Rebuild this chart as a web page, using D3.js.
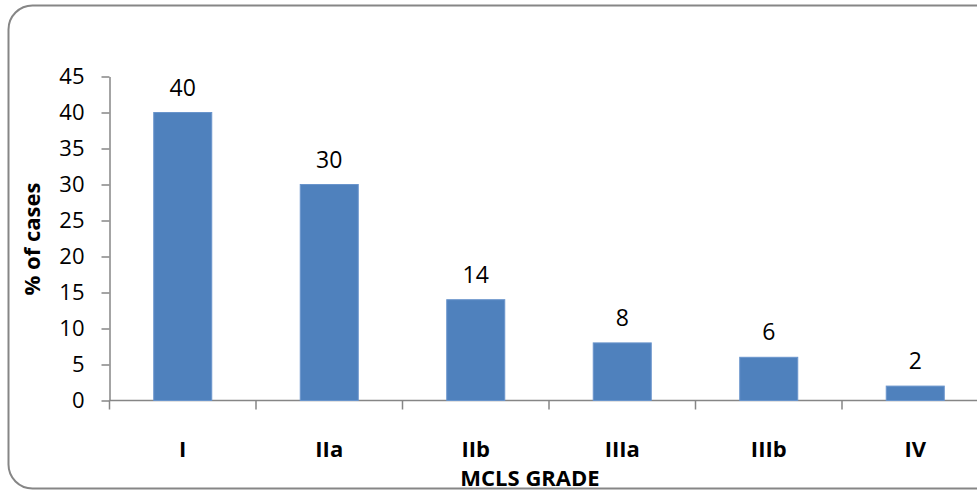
<!DOCTYPE html>
<html><head><meta charset="utf-8">
<script src="https://cdn.jsdelivr.net/npm/d3@7"></script>
<style>html,body{margin:0;padding:0;background:#fff;overflow:hidden}</style>
</head><body>
<svg id="c" width="977" height="493"></svg>
<script>
const categories = ["I","IIa","IIb","IIIa","IIIb","IV"];
const values = [40,30,14,8,6,2];
const yTicks = [0,5,10,15,20,25,30,35,40,45];

const svg = d3.select("#c");
const font = "'Open Sans', 'Liberation Sans', sans-serif";
const gray = "#868686";

// frame
svg.append("rect").attr("x",8.5).attr("y",5.5).attr("width",990).attr("height",483)
  .attr("rx",24).attr("ry",24).attr("fill","#fff").attr("stroke",gray).attr("stroke-width",2);

const left = 109.5, bottom = 400.5;
const x = d3.scaleBand().domain(categories).range([left, left + 146.5*6]).paddingInner(0.604).paddingOuter(0.302);
const y = d3.scaleLinear().domain([0,45]).range([bottom, bottom - 45*7.2]);

// y axis
const ya = svg.append("g").attr("transform",`translate(${left},0)`)
  .call(d3.axisLeft(y).tickValues(yTicks).tickSize(8).tickPadding(17).tickSizeOuter(0));
ya.select(".domain").attr("stroke",gray).attr("stroke-width",1.5);
ya.selectAll(".tick line").attr("stroke",gray).attr("stroke-width",1.5);
ya.selectAll(".tick text").attr("font-family",font).attr("font-size",22).attr("fill","#000");

// x axis line + ticks between categories
svg.append("line").attr("x1",left).attr("x2",977).attr("y1",bottom).attr("y2",bottom)
  .attr("stroke",gray).attr("stroke-width",1.5);
const step = x.step();
const bounds = d3.range(categories.length+1).map(i => left + i*step);
svg.selectAll(".xt").data(bounds).join("line").attr("class","xt")
  .attr("x1",d=>d).attr("x2",d=>d).attr("y1",bottom).attr("y2",bottom+9)
  .attr("stroke",gray).attr("stroke-width",1.5);

// bars
svg.selectAll(".bar").data(values).join("rect").attr("class","bar")
  .attr("x",(d,i)=>x(categories[i])).attr("width",x.bandwidth())
  .attr("y",d=>y(d)).attr("height",d=>bottom - y(d))
  .attr("fill","#4F81BD").attr("stroke","#6a95cc").attr("stroke-width",1);

// value labels
svg.selectAll(".vl").data(values).join("text").attr("class","vl")
  .attr("x",(d,i)=>x(categories[i])+x.bandwidth()/2).attr("y",d=>y(d)-17)
  .attr("text-anchor","middle").attr("font-family",font).attr("font-size",23).attr("fill","#000")
  .text(d=>d);

// category labels
svg.selectAll(".cl").data(categories).join("text").attr("class","cl")
  .attr("x",d=>x(d)+x.bandwidth()/2).attr("y",457)
  .attr("text-anchor","middle").attr("font-family",font).attr("font-size",22).attr("font-weight","bold").attr("fill","#000")
  .text(d=>d);

// axis titles
svg.append("text").attr("x",530).attr("y",486).attr("text-anchor","middle")
  .attr("font-family",font).attr("font-size",22).attr("font-weight","bold").text("MCLS GRADE");
svg.append("text").attr("transform","translate(40,239) rotate(-90)").attr("text-anchor","middle")
  .attr("font-family",font).attr("font-size",22).attr("font-weight","bold").text("% of cases");
</script>
</body></html>
